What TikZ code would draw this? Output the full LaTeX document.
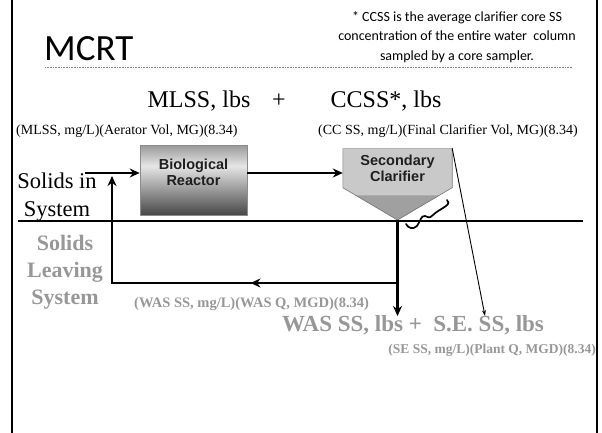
\documentclass[tikz,border=0pt]{standalone}
\usepackage{fontspec}
\setmainfont{Liberation Serif}
\newfontfamily\calfont{Carlito}
\newfontfamily\labfont{Liberation Sans}
\usetikzlibrary{arrows.meta,calc,decorations.markings,positioning}

\definecolor{leavegray}{HTML}{979797}
\definecolor{clarlight}{HTML}{C9C9C9}
\definecolor{clardark}{HTML}{A0A0A0}

% light band near the top, dark at the bottom
\pgfdeclareverticalshading{reactorshade}{100bp}{color(0bp)=(black!72); color(25bp)=(black!72); color(60bp)=(black!10); color(75bp)=(black!40); color(100bp)=(black!40)}

\tikzset{
  flow/.style={line width=2.8pt},
  bigtip/.style={-{Stealth[length=10pt,width=9pt]}},
  boxtext/.style={font=\labfont\bfseries\fontsize{14.5}{16}\selectfont,align=center,text=black!88,inner sep=0pt},
  eqn/.style={font=\fontsize{24}{24}\selectfont,inner sep=0pt},
  calcline/.style={font=\fontsize{14}{14}\selectfont,inner sep=0pt},
  leave/.style={text=leavegray,inner sep=0pt}
}

\begin{document}
\begin{tikzpicture}[x=1pt,y=-1pt,>=Latex]
  \useasboundingbox (0,0) rectangle (602,433);
  \draw[line width=2pt] (12,0) -- (12,433);
  \draw[line width=2pt] (597,0) -- (597,433);

  % heading and footnote
  \node[font=\calfont\fontsize{37}{37}\selectfont,anchor=base west,inner sep=0pt] (title) at (44,61) {MCRT};
  \node[font=\calfont\fontsize{14}{19.5}\selectfont,align=center,inner sep=0pt] (note) at (457,37)
    {* CCSS is the average clarifier core SS\\concentration of the entire water\ \ column\\sampled by a core sampler.};
  \draw[gray,densely dotted,line width=0.6pt] (45,67) -- (572,67);

  % solids in the system
  \node[eqn,anchor=base] (mlss) at (199,108) {MLSS, lbs};
  \node[eqn,anchor=base] (plus) at (279,108) {+};
  \node[eqn,anchor=base] (ccss) at (386,108) {CCSS*, lbs};
  \node[calcline,anchor=west] (mlsscalc) at (16,131) {(MLSS, mg/L)(Aerator Vol, MG)(8.34)};
  \node[calcline,anchor=west] (ccsscalc) at (318,131) {(CC SS, mg/L)(Final Clarifier Vol, MG)(8.34)};

  % aeration basin
  \node[draw=black!45,line width=0.6pt,shading=reactorshade,minimum width=107pt,minimum height=70pt,inner sep=0pt] (bio) at (193.5,180) {};
  \node[boxtext] (biotext) at ($(bio.center)+(0,-8)$) {Biological\\Reactor};

  % clarifier: box with a cone below
  \node[fill=clarlight,minimum width=109pt,minimum height=39pt,boxtext] (clar) at (397.5,168) {Secondary\\Clarifier};
  \coordinate (tip) at (397.5,220);
  \fill[clarlight] (clar.south west) -- (tip) -- (clar.south east) -- cycle;
  \fill[clardark] ($(clar.south west)!0.24!(tip)$) -- (tip) -- ($(clar.south east)!0.24!(tip)$) -- cycle;
  \draw[black!55,line width=0.6pt] (clar.north west) -- (clar.south west) -- (tip) -- (clar.south east) -- (clar.north east);
  \draw[black!30,line width=0.6pt] (clar.north west) -- (clar.north east);

  \node[font=\fontsize{22.5}{28}\selectfont,align=center,inner sep=0pt] (solidsin) at (57,197) {Solids in\\System};
  \draw[line width=2pt] (18,221) -- (583,221);

  % flows through the plant
  \coordinate (feed) at (85,173);
  \coordinate (split) at (397.5,283);
  \coordinate (back) at (112,176);
  \coordinate (wasout) at (397.5,316);
  \coordinate (seout) at (485,316);
  \draw[flow,bigtip] (feed) -- (feed -| bio.west);
  \draw[flow,bigtip] (feed -| bio.east) -- (feed -| clar.west);
  \draw[flow,bigtip] (tip) -- (wasout);
  \draw[flow,bigtip,postaction={decorate},decoration={markings,mark=at position 147pt with {\arrow{Stealth[length=10pt,width=9pt]}}}] (split) -| (back);
  \draw[line width=0.9pt,-{Stealth[length=6pt,width=4pt]}] (clar.north east) -- (seout);
  \draw[line width=1.7pt,line cap=round] (406,224) .. controls (408,228) and (413,230) .. (417,226)
    .. controls (420,222) and (421,215) .. (425,216) .. controls (428,217) and (429,219) .. (433,215)
    .. controls (437,211) and (442,209) .. (446,206) .. controls (449,204) and (449,201) .. (447,200);

  % solids leaving the system
  \node[leave,font=\bfseries\fontsize{22}{27}\selectfont,align=center] (solidsout) at (65,272) {Solids\\Leaving\\System};
  \node[leave,font=\bfseries\fontsize{14.5}{14.5}\selectfont,anchor=west] (wascalc) at (134,304) {(WAS SS, mg/L)(WAS Q, MGD)(8.34)};
  \node[leave,font=\bfseries\fontsize{23}{23}\selectfont,anchor=west] (waslbs) at (282,325) {WAS SS, lbs +\ \ S.E. SS, lbs};
  \node[leave,font=\bfseries\fontsize{13.5}{13.5}\selectfont,anchor=east] (secalc) at (596,350) {(SE SS, mg/L)(Plant Q, MGD)(8.34)};
\end{tikzpicture}
\end{document}
